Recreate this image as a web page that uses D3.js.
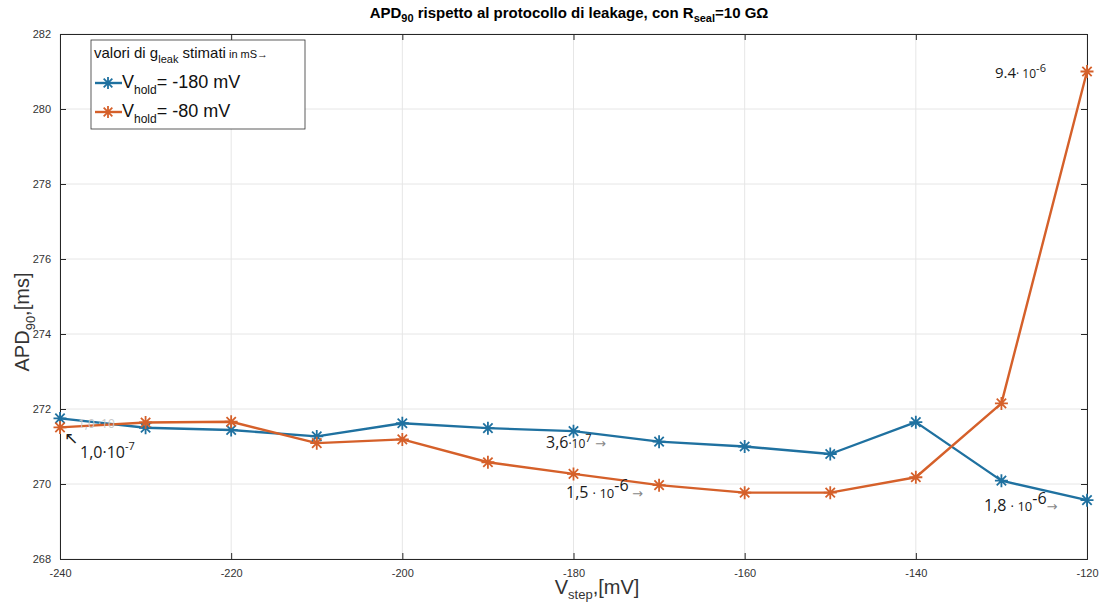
<!DOCTYPE html>
<html><head><meta charset="utf-8">
<script src="https://cdn.jsdelivr.net/npm/d3@7"></script>
<style>body{margin:0;background:#fff}svg{display:block}</style>
</head><body><svg id="c" width="1099" height="603"></svg>
<script>
const vstep = [-240,-230,-220,-210,-200,-190,-180,-170,-160,-150,-140,-130,-120];
const hold180 = [271.75,271.50,271.44,271.27,271.62,271.49,271.41,271.13,271.00,270.80,271.65,270.09,269.57];
const hold80 = [271.51,271.64,271.66,271.09,271.19,270.58,270.27,269.97,269.77,269.77,270.18,272.15,281.00];
const xTicks = [-240,-220,-200,-180,-160,-140,-120];
const yTicks = [268,270,272,274,276,278,280,282];
const seriesNames = ["-180 mV","-80 mV"];
const colors = ["#1f71a0","#d5602a"];

const svg = d3.select("#c");
const L=60,R=1087,T=34,B=559;
const x = d3.scaleLinear().domain([-240,-120]).range([L,R]);
const y = d3.scaleLinear().domain([268,282]).range([B,T]);

// grid
const g = svg.append("g");
g.selectAll(".gx").data(xTicks).enter().append("line")
 .attr("x1",d=>x(d)).attr("x2",d=>x(d)).attr("y1",T).attr("y2",B)
 .attr("stroke","#e6e6e6").attr("stroke-width",1);
g.selectAll(".gy").data(yTicks).enter().append("line")
 .attr("y1",d=>y(d)).attr("y2",d=>y(d)).attr("x1",L).attr("x2",R)
 .attr("stroke","#e6e6e6").attr("stroke-width",1);

// axes
const ax = svg.append("g").attr("transform",`translate(0,${B})`)
 .call(d3.axisBottom(x).tickValues(xTicks).tickSize(-6).tickPadding(10));
const axT = svg.append("g").attr("transform",`translate(0,${T})`)
 .call(d3.axisTop(x).tickValues(xTicks).tickSize(-6).tickFormat(""));
const ay = svg.append("g").attr("transform",`translate(${L},0)`)
 .call(d3.axisLeft(y).tickValues(yTicks).tickSize(-6).tickPadding(9));
const ayR = svg.append("g").attr("transform",`translate(${R},0)`)
 .call(d3.axisRight(y).tickValues(yTicks).tickSize(-6).tickFormat(""));
[ax,axT,ay,ayR].forEach(a=>{
  a.selectAll("path").attr("stroke","#262626").attr("stroke-width",1);
  a.selectAll("line").attr("stroke","#262626");
  a.selectAll("text").attr("fill","#333").style("font-family","Liberation Sans, Arial, sans-serif").style("font-size","11px");
});
ax.selectAll("text").text(d=>d.toString().replace("-","-"));

// star marker path
function star(r){
  const a=r*0.72;
  return `M0,${-r}L0,${r}M${-r},0L${r},0M${-a},${-a}L${a},${a}M${-a},${a}L${a},${-a}`;
}
const line = d3.line().x((d,i)=>x(vstep[i])).y(d=>y(d));
[hold180,hold80].forEach((s,k)=>{
  svg.append("path").datum(s).attr("d",line).attr("fill","none")
   .attr("stroke",colors[k]).attr("stroke-width",2.4).attr("stroke-linejoin","round");
});
[hold180,hold80].forEach((s,k)=>{
  svg.selectAll(null).data(s).enter().append("path")
   .attr("d",star(6.5)).attr("transform",(d,i)=>`translate(${x(vstep[i])},${y(d)})`)
   .attr("stroke",colors[k]).attr("stroke-width",1.8).attr("fill","none");
});

const F="Liberation Sans, Arial, sans-serif";
const FC="Open Sans, DejaVu Sans, sans-serif";
// title
const title = svg.append("text").attr("x",569).attr("y",18).attr("text-anchor","middle")
 .style("font-family",F).style("font-weight","bold").style("font-size","15px").attr("fill","#000");
title.append("tspan").text("APD");
title.append("tspan").text("90").attr("dy",4).style("font-size","11px");
title.append("tspan").text(" rispetto al protocollo di leakage, con R").attr("dy",-4);
title.append("tspan").text("seal").attr("dy",4).style("font-size","11px");
title.append("tspan").text("=10 G\u03A9").attr("dy",-4);

// y label
const yl = svg.append("text").attr("transform","translate(29,322) rotate(-90)").attr("text-anchor","middle")
 .style("font-family",F).style("font-size","20px").attr("fill","#333");
yl.append("tspan").text("APD");
yl.append("tspan").text("90").attr("dy",6).style("font-size","13px");
yl.append("tspan").text(",[ms]").attr("dy",-6);

// x label
const xl = svg.append("text").attr("x",597).attr("y",594).attr("text-anchor","middle")
 .style("font-family",F).style("font-size","20px").attr("fill","#333");
xl.append("tspan").text("V");
xl.append("tspan").text("step").attr("dy",5).style("font-size","13px");
xl.append("tspan").text(",[mV]").attr("dy",-5);

// legend
svg.append("rect").attr("x",91).attr("y",40).attr("width",214).attr("height",89)
 .attr("fill","#fff").attr("stroke","#333").attr("stroke-width",0.8);
const lt = svg.append("text").attr("x",94).attr("y",58).style("font-family",F).style("font-size","15px").attr("fill","#111");
lt.append("tspan").text("valori di g");
lt.append("tspan").text("leak").attr("dy",5).style("font-size","11px");
lt.append("tspan").text(" stimati").attr("dy",-5);
lt.append("tspan").text(" in mS\u2192").style("font-size","11px");
seriesNames.forEach((n,k)=>{
  const yy = 83 + k*29;
  svg.append("line").attr("x1",95).attr("x2",122).attr("y1",yy).attr("y2",yy).attr("stroke",colors[k]).attr("stroke-width",2.4);
  svg.append("path").attr("d",star(6)).attr("transform",`translate(108,${yy})`).attr("stroke",colors[k]).attr("stroke-width",1.8);
  const t = svg.append("text").attr("x",122).attr("y",yy+5).style("font-family",F).style("font-size","18px").attr("fill","#111");
  t.append("tspan").text("V");
  t.append("tspan").text("hold").attr("dy",6).style("font-size","12px");
  t.append("tspan").text("= "+n).attr("dy",-6);
});

// annotations
function ann(xp,yp,parts){
  const t = svg.append("text").attr("x",xp).attr("y",yp).style("font-family",FC).attr("fill","#1a1a1a");
  parts.forEach(p=>{
    const ts=t.append("tspan").text(p[0]).style("font-size",p[1]+"px");
    if(p[2]) ts.attr("dy",p[2]);
    if(p[3]) ts.attr("fill",p[3]);
  });
}
// faint ghost text
svg.append("text").attr("x",78).attr("y",428).text("1,0 \u00B710").style("font-family",FC).style("font-size","12px").attr("fill","#c8c8c8");
ann(64,444,[["\u2196",17]]);
ann(80,458,[["1,0\u00B710",16],["-7",11,-8]]);
ann(546,448,[["3,6",16],["\u00B710",12],["7",11,-6],["      \u2192",13,6,"#888"]]);
ann(566,498,[["1,5 ",16],["\u00B7 10",13],["-6",16,-7],[" \u2192",13,7,"#888"]]);
ann(984,511,[["1,8 ",16],["\u00B7 10",13],["-6",16,-7],["\u2192",13,7,"#888"]]);
ann(995,78,[["9.4",15],["\u00B7 10",12],["-6",11,-6]]);
</script></body></html>
